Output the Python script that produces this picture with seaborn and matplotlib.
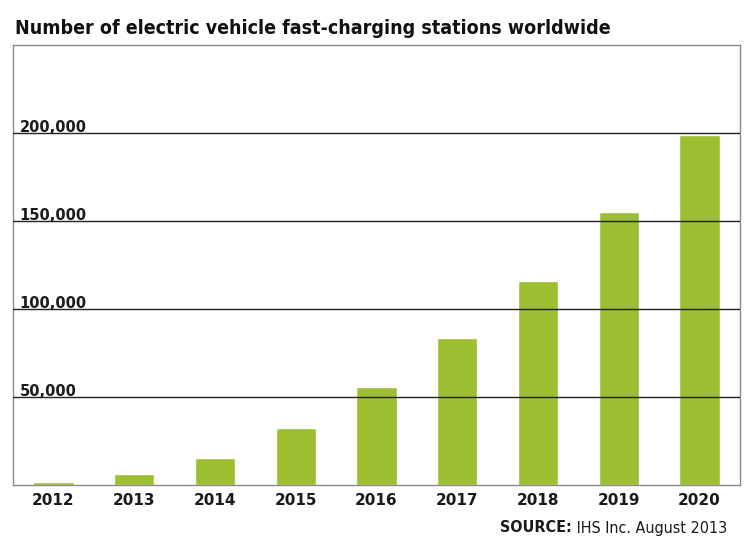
import matplotlib
matplotlib.use("Agg")
import matplotlib.pyplot as plt
import matplotlib.transforms as mtransforms
import seaborn as sns
import pandas as pd

years = ["2012", "2013", "2014", "2015", "2016", "2017", "2018", "2019", "2020"]
stations = [1500, 6200, 15300, 32300, 55500, 83300, 115800, 155000, 199000]
ytick_values = [50000, 100000, 150000, 200000]
ytick_labels = ["50,000", "100,000", "150,000", "200,000"]
title = "Number of electric vehicle fast-charging stations worldwide"
source_bold = "SOURCE:"
source_rest = " IHS Inc. August 2013"

sns.set_style("white")
plt.rcParams["font.family"] = ["DejaVu Sans"]

df = pd.DataFrame({"year": years, "stations": stations})

fig = plt.figure(figsize=(7.5, 5.49), dpi=100)
ax = fig.add_axes([13/750, 1-485/549, (740-13)/750, (485-45)/549])

sns.barplot(data=df, x="year", y="stations", color="#9dbf31", width=0.5,
            saturation=1, ax=ax, zorder=2)

ax.set_ylim(0, 250000)
ax.set_xlim(-0.5, 8.5)
ax.set_xlabel("")
ax.set_ylabel("")
ax.set_yticks([])
for v in ytick_values:
    ax.axhline(v, color="#222222", lw=1.0, zorder=3)
trans = mtransforms.blended_transform_factory(ax.transAxes, ax.transData)
for v, lab in zip(ytick_values, ytick_labels):
    ax.text(0.009, v + 700, lab, transform=trans, ha="left", va="baseline",
            fontsize=10.5, fontweight="bold", color="#1a1a1a", zorder=4)

ax.tick_params(axis="x", length=0, pad=6)
for t in ax.get_xticklabels():
    t.set_fontweight("bold")
    t.set_fontsize(11)
    t.set_color("#1a1a1a")

for s in ax.spines.values():
    s.set_visible(True)
    s.set_color("#8a8a8a")
    s.set_linewidth(1.0)

fig.text(15/750, 1-28/549, title, ha="left", va="center", fontsize=14,
         fontweight="bold", fontstretch="condensed", color="#111111")

fig.canvas.draw()
renderer = fig.canvas.get_renderer()
t2 = fig.text(727/750, 1-528/549, source_rest, ha="right", va="center",
              fontsize=11.5, fontstretch="condensed", color="#1a1a1a")
bb = t2.get_window_extent(renderer)
fig.text(bb.x0/fig.bbox.width, 1-528/549, source_bold, ha="right", va="center",
         fontsize=11.5, fontweight="bold", fontstretch="condensed", color="#1a1a1a")

fig.savefig("out.png", dpi=100)
